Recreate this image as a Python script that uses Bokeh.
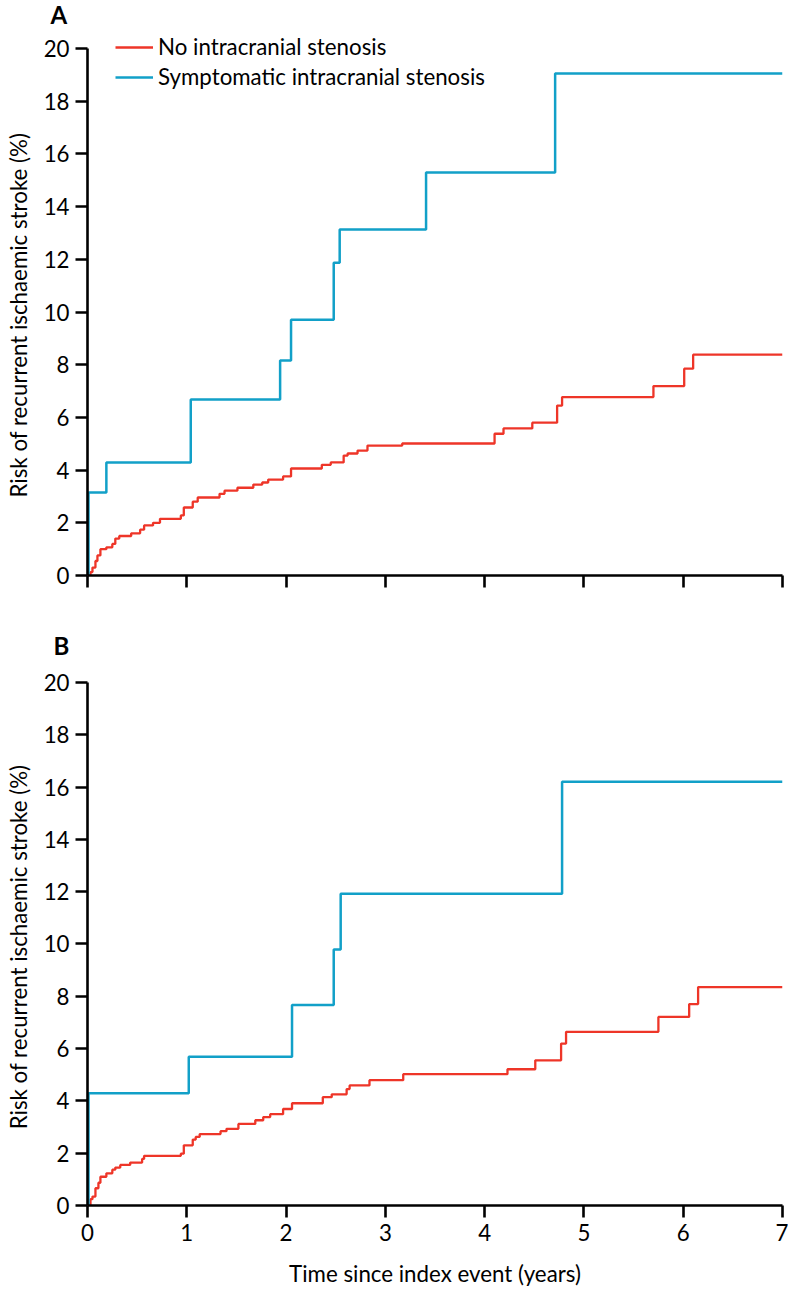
from bokeh.plotting import figure
from bokeh.models import Range1d, Legend, LegendItem, FixedTicker, Title
from bokeh.layouts import column
from bokeh.embed import file_html
from bokeh.resources import INLINE

# ---------------- data ----------------
x_ticks = [0, 1, 2, 3, 4, 5, 6, 7]
y_ticks = [0, 2, 4, 6, 8, 10, 12, 14, 16, 18, 20]
series_names = ["No intracranial stenosis", "Symptomatic intracranial stenosis"]
y_title = "Risk of recurrent ischaemic stroke (%)"
x_title = "Time since index event (years)"

# Panel A
a_none_t = [0, 0.03, 0.05, 0.08, 0.10, 0.13, 0.19, 0.25, 0.28, 0.32, 0.44, 0.53, 0.57,
            0.66, 0.73, 0.94, 0.97, 1.06, 1.11, 1.33, 1.38, 1.51, 1.67, 1.76, 1.82, 1.97,
            2.05, 2.36, 2.45, 2.58, 2.62, 2.72, 2.82, 3.17, 4.10, 4.19, 4.48, 4.73, 4.78,
            5.70, 6.01, 6.10, 7.0]
a_none_v = [0, 0.13, 0.3, 0.55, 0.76, 1.0, 1.07, 1.2, 1.4, 1.5, 1.6, 1.74, 1.9,
            2.0, 2.15, 2.28, 2.58, 2.8, 2.96, 3.1, 3.22, 3.33, 3.45, 3.53, 3.64, 3.76,
            4.06, 4.2, 4.29, 4.55, 4.63, 4.74, 4.93, 5.01, 5.38, 5.58, 5.8, 6.45, 6.77,
            7.19, 7.85, 8.38, 8.38]
a_symp_t = [0, 0.01, 0.19, 1.04, 1.94, 2.05, 2.48, 2.54, 3.41, 4.71, 7.0]
a_symp_v = [0, 3.15, 4.29, 6.68, 8.16, 9.71, 11.87, 13.13, 15.29, 19.05, 19.05]

# Panel B
b_none_t = [0, 0.03, 0.05, 0.08, 0.11, 0.13, 0.19, 0.25, 0.28, 0.33, 0.43, 0.55, 0.57,
            0.94, 0.97, 1.06, 1.09, 1.13, 1.34, 1.40, 1.52, 1.69, 1.77, 1.84, 1.97, 2.06,
            2.37, 2.46, 2.61, 2.64, 2.84, 3.18, 4.23, 4.51, 4.77, 4.82, 5.75, 6.06, 6.15, 7.0]
b_none_v = [0, 0.24, 0.34, 0.66, 0.87, 1.1, 1.23, 1.37, 1.45, 1.55, 1.64, 1.78, 1.9,
            1.98, 2.3, 2.52, 2.62, 2.73, 2.84, 2.93, 3.12, 3.26, 3.38, 3.49, 3.69, 3.91,
            4.14, 4.25, 4.45, 4.59, 4.79, 5.02, 5.21, 5.55, 6.19, 6.64, 7.21, 7.7, 8.35, 8.35]
b_symp_t = [0, 0.01, 1.02, 2.06, 2.48, 2.55, 4.78, 7.0]
b_symp_v = [0, 4.29, 5.69, 7.67, 9.79, 11.92, 16.2, 16.2]

# ---------------- style ----------------
FONT = "Lato"
RED = "#ee3528"
BLUE = "#12a0c8"
FS = "22.3px"
PX_PER_UNIT = 527 / 20.0


def make_panel(letter, none_t, none_v, symp_t, symp_v, height, top, bottom,
               show_xlabels, legend, title_offset, title_standoff, pad):
    frame_h = height - top - bottom
    y_end = frame_h / PX_PER_UNIT
    p = figure(width=788, height=height, output_backend="svg", toolbar_location=None,
               x_range=Range1d(0, 7), y_range=Range1d(0, y_end),
               min_border_left=87, min_border_right=6,
               min_border_top=top, min_border_bottom=bottom)
    p.outline_line_color = None
    p.grid.visible = False
    p.background_fill_color = "white"
    p.title = Title(text=letter, align="left", offset=title_offset, standoff=title_standoff,
                    text_font=FONT, text_font_style="bold", text_font_size="24px",
                    text_color="black")

    r_none = p.step(none_t, none_v, mode="after", line_color=RED, line_width=2.3)
    r_symp = p.step(symp_t, symp_v, mode="after", line_color=BLUE, line_width=2.5)

    for ax in (p.xaxis[0], p.yaxis[0]):
        ax.axis_line_width = 2.6
        ax.axis_line_color = "black"
        ax.major_tick_line_width = 2.6
        ax.major_tick_line_color = "black"
        ax.major_tick_out = 12
        ax.major_tick_in = 0
        ax.minor_tick_line_color = None
        ax.major_label_text_font = FONT
        ax.major_label_text_font_size = FS
        ax.major_label_text_color = "black"
        ax.axis_label_text_font = FONT
        ax.axis_label_text_font_size = FS
        ax.axis_label_text_font_style = "normal"
        ax.axis_label_text_color = "black"

    p.xaxis.ticker = FixedTicker(ticks=x_ticks)
    p.yaxis.ticker = FixedTicker(ticks=y_ticks)
    p.xaxis.bounds = (0, 7)
    p.yaxis.bounds = (0, 20)
    p.yaxis.axis_label = y_title + "\u00a0" * pad
    p.yaxis.major_label_standoff = 6
    p.yaxis.axis_label_standoff = 9
    if show_xlabels:
        p.xaxis.axis_label = x_title
        p.xaxis.major_label_standoff = 6
        p.xaxis.axis_label_standoff = 16
    else:
        p.xaxis.major_label_overrides = {t: "" for t in x_ticks}
        p.xaxis.major_label_text_font_size = "1px"

    if legend:
        leg = Legend(items=[LegendItem(label=series_names[0], renderers=[r_none]),
                            LegendItem(label=series_names[1], renderers=[r_symp])],
                     location=(28, 485), padding=0, margin=0, spacing=3,
                     glyph_width=38, glyph_height=26, label_height=26, label_standoff=5,
                     label_text_font=FONT, label_text_font_size=FS,
                     label_text_color="black", border_line_color=None,
                     background_fill_alpha=0)
        p.add_layout(leg, "center")
    return p


# panel A: canvas 0-620, frame 20-575 ; panel B: canvas 620-1289, frame 665-1209
pa = make_panel("A", a_none_t, a_none_v, a_symp_t, a_symp_v, 620, 20, 45,
                False, True, -37, -16, 6)
pb = make_panel("B", b_none_t, b_none_v, b_symp_t, b_symp_v, 669, 45, 80,
                True, False, -34, 12, 4)

layout = column(pa, pb, spacing=0)
open("out.html", "w").write(file_html(layout, INLINE))
